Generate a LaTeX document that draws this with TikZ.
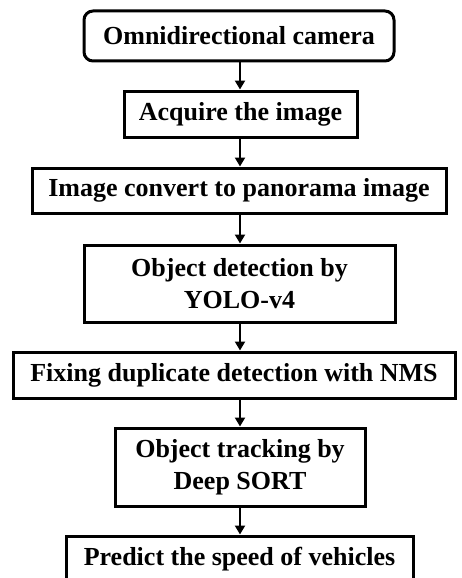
\documentclass[tikz,border=0pt]{standalone}
\usepackage{fontspec}
\setmainfont{Liberation Serif}
\usetikzlibrary{arrows.meta}

\begin{document}
\begin{tikzpicture}[x=1pt, y=-1pt,
        stepbox/.style={draw, line width=3pt, align=center, inner sep=0pt,
            font=\fontsize{26}{32}\selectfont\bfseries},
        flow/.style={line width=2.8pt, -{Triangle[length=9pt, width=10pt]}}]
        \useasboundingbox (0,0) rectangle (461,578);

        % boxes
        \node[stepbox, rounded corners=9pt, minimum width=310pt, minimum height=50pt] (cam) at (239, 36) {Omnidirectional camera};
        \node[stepbox, minimum width=233pt, minimum height=46pt] (acq) at (240.5, 114) {Acquire the image};
        \node[stepbox, minimum width=414pt, minimum height=45pt] (pano) at (239, 190.5) {Image convert to panorama image};
        \node[stepbox, minimum width=311pt, minimum height=77pt] (yolo) at (239.5, 283.5) {Object detection by\\YOLO-v4};
        \node[stepbox, minimum width=442pt, minimum height=46pt] (nms) at (234, 375) {Fixing duplicate detection with NMS};
        \node[stepbox, minimum width=250pt, minimum height=78pt] (sort) at (240, 467) {Object tracking by\\Deep SORT};
        \node[stepbox, minimum width=347pt, minimum height=46pt] (speed) at (239.5, 559) {Predict the speed of vehicles};

        % arrows
        \coordinate (axis) at (240, 0);
        \draw[flow] (axis |- cam.south) -- (axis |- acq.north);
        \draw[flow] (axis |- acq.south) -- (axis |- pano.north);
        \draw[flow] (axis |- pano.south) -- (axis |- yolo.north);
        \draw[flow] (axis |- yolo.south) -- (axis |- nms.north);
        \draw[flow] (axis |- nms.south) -- (axis |- sort.north);
        \draw[flow] (axis |- sort.south) -- (axis |- speed.north);
    \end{tikzpicture}
\end{document}
